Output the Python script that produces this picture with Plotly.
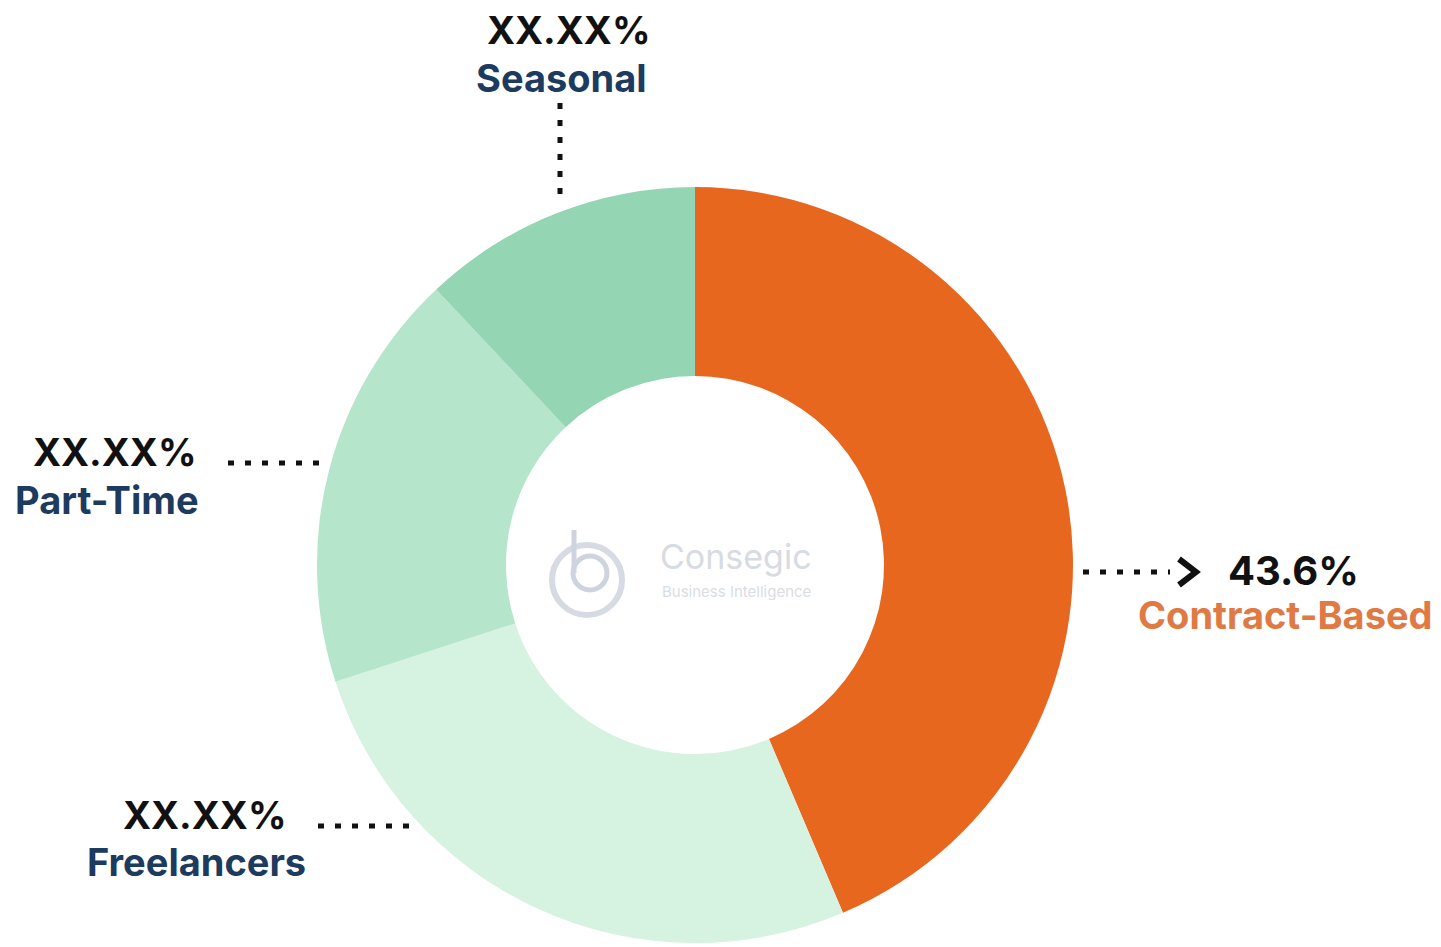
import plotly.graph_objects as go

W, H = 1441, 947
OFF = 8  # page body margin

categories = ["Contract-Based", "Freelancers", "Part-Time", "Seasonal"]
shares = [43.6, 26.4, 18.0, 12.0]
value_labels = ["43.6%", "XX.XX%", "XX.XX%", "XX.XX%"]
colors = ["#E8671F", "#D6F2E0", "#B5E5CB", "#94D5B3"]
name_colors = ["#E07A45", "#1D3A5F", "#1D3A5F", "#1D3A5F"]

cx, cy, R = 695, 565, 378

def px(x):
    return (x - OFF) / W

def py(y):
    return 1 - (y - OFF) / H

fig = go.Figure()
fig.add_trace(go.Pie(
    labels=categories,
    values=shares,
    hole=0.5,
    sort=False,
    direction="clockwise",
    rotation=0,
    marker=dict(colors=colors, line=dict(width=0)),
    textinfo="none",
    hoverinfo="label+percent",
    showlegend=False,
    domain=dict(x=[px(cx - R), px(cx + R)], y=[py(cy + R), py(cy - R)]),
))

FONT = "Inter, Roboto, Arial, sans-serif"
annotations = []
# label positions (pixel): (value x, value y, value anchor, value size, name x, name y, name anchor)
label_pos = {
    "Contract-Based": (1226, 570, "left", 40, 1136, 615, "left"),
    "Freelancers": (289, 815, "right", 38, 308, 862, "right"),
    "Part-Time": (199, 452, "right", 38, 201, 500, "right"),
    "Seasonal": (569, 30, "center", 38, 561, 78, "center"),
}
for cat, val, ncol in zip(categories, value_labels, name_colors):
    vx, vy, va, vs, nx, ny, na = label_pos[cat]
    annotations.append(dict(x=px(vx), y=py(vy), xref="paper", yref="paper", text=f"<b>{val}</b>",
                            showarrow=False, xanchor=va, yanchor="middle",
                            font=dict(family=FONT, size=vs, color="#111111")))
    annotations.append(dict(x=px(nx), y=py(ny), xref="paper", yref="paper", text=f"<b>{cat}</b>",
                            showarrow=False, xanchor=na, yanchor="middle",
                            font=dict(family=FONT, size=38, color=ncol)))

# watermark
annotations.append(dict(x=px(736), y=py(556), xref="paper", yref="paper", text="Consegic",
                        showarrow=False, font=dict(family=FONT, size=34, color="#D8DBE2")))
annotations.append(dict(x=px(736), y=py(591), xref="paper", yref="paper", text="Business Intelligence",
                        showarrow=False, font=dict(family=FONT, size=15, color="#DADDE2")))

shapes = []
dot = dict(color="#111111", width=5, dash="6px,11px")
leaders = [
    (560, 103, 560, 205),
    (228, 463, 328, 463),
    (318, 826, 418, 826),
    (1083, 572, 1170, 572),
]
for x0, y0, x1, y1 in leaders:
    shapes.append(dict(type="line", xref="paper", yref="paper", x0=px(x0), y0=py(y0), x1=px(x1), y1=py(y1),
                       line=dot, layer="above"))
# chevron
shapes.append(dict(type="path", xref="paper", yref="paper",
                   path=f"M {px(1179)} {py(559)} L {px(1196)} {py(572)} L {px(1179)} {py(585)}",
                   line=dict(color="#111111", width=6)))
# logo
shapes.append(dict(type="circle", xref="paper", yref="paper",
                   x0=px(552), y0=py(615), x1=px(622), y1=py(545),
                   line=dict(color="#D5DAE3", width=6)))
shapes.append(dict(type="circle", xref="paper", yref="paper",
                   x0=px(573), y0=py(590), x1=px(607), y1=py(556),
                   line=dict(color="#CDD4DF", width=5)))
shapes.append(dict(type="line", xref="paper", yref="paper",
                   x0=px(574), y0=py(573), x1=px(574), y1=py(530),
                   line=dict(color="#CDD4DF", width=5)))

fig.update_layout(
    width=W, height=H,
    margin=dict(l=0, r=0, t=0, b=0),
    paper_bgcolor="white", plot_bgcolor="white",
    annotations=annotations,
    shapes=shapes,
)

fig.write_html("out.html")
